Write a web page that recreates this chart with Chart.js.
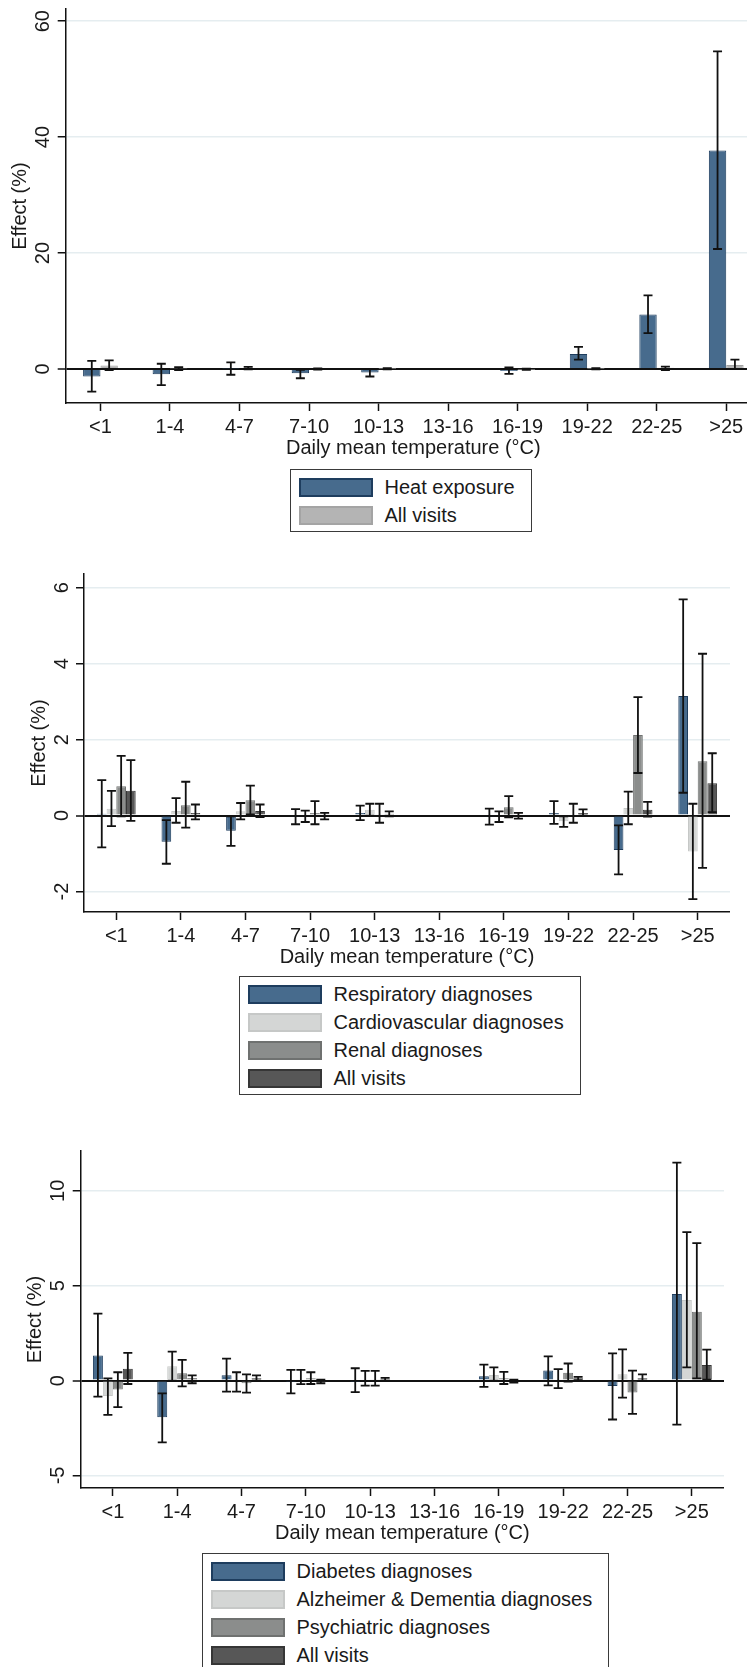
<!DOCTYPE html>
<html>
<head>
<meta charset="utf-8">
<script src="https://cdn.jsdelivr.net/npm/chart.js@4.4.0/dist/chart.umd.min.js"></script>
<style>
body { margin: 0; background: #fff; overflow: hidden; }
#page { position: relative; width: 747px; height: 1667px; overflow: hidden; font-family: "Liberation Sans", Arial, sans-serif; }
#page canvas { position: absolute; left: 0; }
.legend { position: absolute; border: 1.5px solid #3a3a3a; padding: 3px 16px 2px 7.5px; background: #fff; }
.legend .row { display: flex; align-items: center; height: 28px; }
.legend .sw { width: 70px; height: 15px; border: 2px solid; margin-right: 12px; }
.legend span { font-size: 20px; color: #1a1a1a; white-space: nowrap; }
</style>
</head>
<body>
<div id="page">
  <canvas id="c1" width="761" height="463" style="top:0px"></canvas>
  <div class="legend" id="leg1" style="left:290px;top:469px"></div>
  <canvas id="c2" width="730" height="432" style="top:540px"></canvas>
  <div class="legend" id="leg2" style="left:239px;top:976px"></div>
  <canvas id="c3" width="724" height="438" style="top:1110px"></canvas>
  <div class="legend" id="leg3" style="left:202px;top:1553px"></div>
</div>
<script>
const categories = ['<1', '1-4', '4-7', '7-10', '10-13', '13-16', '16-19', '19-22', '22-25', '>25'];

// panel 1: heat exposure vs all visits (13-16 is the reference)
const heatEst = [-1.3, -0.9, 0.1, -0.75, -0.6, null, -0.35, 2.6, 9.4, 37.7];
const heatLo  = [-3.9, -2.8, -1.0, -1.6, -1.3, null, -0.85, 1.6, 6.2, 20.7];
const heatHi  = [1.4, 0.9, 1.15, -0.17, 0.0, null, 0.25, 3.8, 12.7, 54.8];
const all1Est = [0.6, 0.1, 0.15, 0.0, 0.05, null, -0.05, 0.05, 0.2, 0.7];
const all1Lo  = [-0.2, -0.2, -0.05, -0.1, -0.05, null, -0.15, -0.05, -0.2, 0.0];
const all1Hi  = [1.5, 0.3, 0.35, 0.1, 0.15, null, 0.05, 0.15, 0.4, 1.6];

// panel 2
const respEst = [0.05, -0.69, -0.4, -0.02, 0.07, null, -0.02, 0.07, -0.91, 3.15];
const respLo  = [-0.84, -1.27, -0.8, -0.23, -0.12, null, -0.24, -0.22, -1.55, 0.6];
const respHi  = [0.93, -0.12, -0.02, 0.17, 0.26, null, 0.18, 0.38, -0.26, 5.69];
const cardEst = [0.18, 0.12, 0.11, 0.0, 0.15, null, 0.03, -0.15, 0.2, -0.95];
const cardLo  = [-0.28, -0.19, -0.1, -0.17, 0.0, null, -0.17, -0.3, -0.23, -2.2];
const cardHi  = [0.65, 0.46, 0.33, 0.13, 0.31, null, 0.11, -0.02, 0.63, 0.31];
const renEst  = [0.77, 0.27, 0.4, 0.07, 0.02, null, 0.22, 0.03, 2.12, 1.43];
const renLo   = [-0.02, -0.32, 0.03, -0.23, -0.19, null, -0.05, -0.19, 1.12, -1.38];
const renHi   = [1.57, 0.89, 0.79, 0.38, 0.31, null, 0.51, 0.31, 3.12, 4.26];
const all2Est = [0.65, 0.07, 0.12, 0.02, 0.05, null, 0.03, 0.07, 0.15, 0.85];
const all2Lo  = [-0.14, -0.1, -0.04, -0.1, -0.02, null, -0.08, 0.0, -0.03, 0.09];
const all2Hi  = [1.46, 0.29, 0.29, 0.07, 0.11, null, 0.07, 0.16, 0.36, 1.64];

// panel 3
const diabEst = [1.32, -1.93, 0.28, -0.07, -0.07, null, 0.23, 0.53, -0.28, 4.56];
const diabLo  = [-0.84, -3.26, -0.58, -0.67, -0.61, null, -0.33, -0.25, -2.05, -2.32];
const diabHi  = [3.53, -0.67, 1.16, 0.56, 0.65, null, 0.84, 1.28, 1.44, 11.49];
const alzEst  = [-0.81, 0.75, 0.05, 0.05, 0.05, null, 0.3, 0.05, 0.33, 4.25];
const alzLo   = [-1.81, 0.0, -0.58, -0.19, -0.26, null, 0.0, -0.4, -0.9, 0.7];
const alzHi   = [0.12, 1.53, 0.44, 0.56, 0.51, null, 0.7, 0.6, 1.65, 7.82];
const psyEst  = [-0.47, 0.39, -0.14, 0.12, 0.05, null, 0.12, 0.42, -0.63, 3.63];
const psyLo   = [-1.4, -0.3, -0.63, -0.18, -0.26, null, -0.18, -0.05, -1.75, 0.12];
const psyHi   = [0.44, 1.09, 0.33, 0.44, 0.51, null, 0.46, 0.9, 0.53, 7.25];
const all3Est = [0.63, 0.12, 0.12, -0.07, 0.09, null, 0.0, 0.12, 0.12, 0.82];
const all3Lo  = [-0.18, -0.14, 0.0, -0.14, 0.0, null, -0.1, 0.03, 0.0, 0.05];
const all3Hi  = [1.46, 0.28, 0.28, 0.05, 0.14, null, 0.05, 0.2, 0.33, 1.63];

const FONT = '"Liberation Sans", Arial, sans-serif';
const BLUE = ['#476b8d', '#1e3d5e'];
const GRAY1 = ['#b4b4b4', '#a4a4a4'];
const LIGHT = ['#d4d6d5', '#c6c8c7'];
const MID = ['#8b8d8c', '#6f7170'];
const DARK = ['#575757', '#363636'];

// draws the CI whiskers on top of every bar
const errorBars = {
  id: 'errorBars',
  afterDatasetsDraw(chart) {
    const ctx = chart.ctx;
    const y = chart.scales.y;
    ctx.save();
    ctx.strokeStyle = '#111';
    ctx.lineWidth = 1.8;
    chart.data.datasets.forEach((ds, i) => {
      const meta = chart.getDatasetMeta(i);
      meta.data.forEach((bar, j) => {
        if (ds.lo[j] == null) return;
        const x = bar.x;
        const y1 = y.getPixelForValue(ds.lo[j]);
        const y2 = y.getPixelForValue(ds.hi[j]);
        const c = 4.5;
        ctx.beginPath();
        ctx.moveTo(x, y1); ctx.lineTo(x, y2);
        ctx.moveTo(x - c, y1); ctx.lineTo(x + c, y1);
        ctx.moveTo(x - c, y2); ctx.lineTo(x + c, y2);
        ctx.stroke();
      });
    });
    ctx.restore();
  }
};

function ds(label, est, lo, hi, col) {
  return { label: label, data: est, lo: lo, hi: hi, backgroundColor: col[0], borderColor: col[1], borderWidth: 1 };
}

function drawPanel(id, sets, p) {
  new Chart(document.getElementById(id), {
    type: 'bar',
    data: { labels: categories, datasets: sets },
    options: {
      responsive: false,
      animation: false,
      layout: { padding: { top: p.top, left: 0, right: 0, bottom: 0 } },
      plugins: { legend: { display: false }, tooltip: { enabled: false } },
      datasets: { bar: { categoryPercentage: p.cat, barPercentage: 1 } },
      scales: {
        x: {
          offset: true,
          grid: { display: true, drawOnChartArea: false, offset: false, tickLength: 8, tickColor: '#111', tickWidth: 1.5 },
          border: { color: '#111', width: 1.5 },
          ticks: { color: '#1a1a1a', font: { size: 20, family: FONT }, padding: 4, maxRotation: 0, autoSkip: false },
          title: { display: true, text: 'Daily mean temperature (°C)', color: '#1a1a1a', font: { size: 20, family: FONT }, padding: { top: 0, bottom: 3 } },
          afterFit(s) { s.height = 60; s.paddingLeft = 0; s.paddingRight = 0; }
        },
        y: {
          min: p.min,
          max: p.max,
          grid: {
            color: c => (c.tick && c.tick.value === 0) ? '#111' : '#e5edf0',
            lineWidth: c => (c.tick && c.tick.value === 0) ? 2 : 1.5,
            tickLength: 8, tickColor: '#111', tickWidth: 1.5
          },
          border: { color: '#111', width: 1.5 },
          ticks: {
            stepSize: p.step, includeBounds: false, minRotation: 90, maxRotation: 90,
            crossAlign: 'center', padding: p.tickPad, color: '#1a1a1a', font: { size: 20, family: FONT }
          },
          title: { display: true, text: 'Effect (%)', color: '#1a1a1a', font: { size: 20, family: FONT }, padding: { top: p.titlePad, bottom: 0 } },
          afterFit(s) { s.width = p.axisX; s.paddingTop = 0; s.paddingBottom = 0; }
        }
      }
    },
    plugins: [errorBars]
  });
}

function legend(id, sets) {
  const el = document.getElementById(id);
  sets.forEach(s => {
    const row = document.createElement('div');
    row.className = 'row';
    const sw = document.createElement('div');
    sw.className = 'sw';
    sw.style.background = s.backgroundColor;
    sw.style.borderColor = s.borderColor;
    const t = document.createElement('span');
    t.textContent = s.label;
    row.appendChild(sw);
    row.appendChild(t);
    el.appendChild(row);
  });
}

const sets1 = [
  ds('Heat exposure', heatEst, heatLo, heatHi, BLUE),
  ds('All visits', all1Est, all1Lo, all1Hi, GRAY1)
];
const sets2 = [
  ds('Respiratory diagnoses', respEst, respLo, respHi, BLUE),
  ds('Cardiovascular diagnoses', cardEst, cardLo, cardHi, LIGHT),
  ds('Renal diagnoses', renEst, renLo, renHi, MID),
  ds('All visits', all2Est, all2Lo, all2Hi, DARK)
];
const sets3 = [
  ds('Diabetes diagnoses', diabEst, diabLo, diabHi, BLUE),
  ds('Alzheimer & Dementia diagnoses', alzEst, alzLo, alzHi, LIGHT),
  ds('Psychiatric diagnoses', psyEst, psyLo, psyHi, MID),
  ds('All visits', all3Est, all3Lo, all3Hi, DARK)
];

drawPanel('c1', sets1, { top: 9, min: -5.87, max: 62.1, step: 20, axisX: 65.7, tickPad: 3, titlePad: 8.7, cat: 0.5 });
drawPanel('c2', sets2, { top: 34, min: -2.54, max: 6.36, step: 2, axisX: 84, tickPad: 5, titlePad: 27, cat: 0.6 });
drawPanel('c3', sets3, { top: 41, min: -5.66, max: 12.1, step: 5, axisX: 80.7, tickPad: 3, titlePad: 23.7, cat: 0.62 });

legend('leg1', sets1);
legend('leg2', sets2);
legend('leg3', sets3);
</script>
</body>
</html>
